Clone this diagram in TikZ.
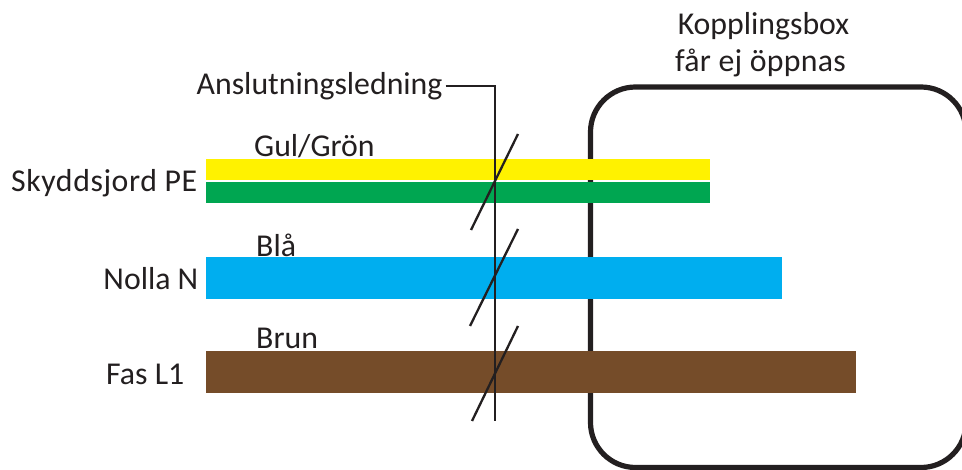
\documentclass[tikz,border=0pt]{standalone}
\usepackage{fontspec}
\setmainfont{Carlito}
\definecolor{cy}{HTML}{FFF200}
\definecolor{cg}{HTML}{00A651}
\definecolor{cb}{HTML}{00AEEF}
\definecolor{cbr}{HTML}{754C29}
\definecolor{ink}{HTML}{231F20}
\tikzset{x=1pt,y=-1pt,
  lbl/.style={font=\fontsize{31.8}{36}\selectfont,inner sep=0pt,text=ink},
  wire/.style={draw=ink,line width=2.3pt}}
\begin{document}
\begin{tikzpicture}
\useasboundingbox (0,0) rectangle (962,470);
\fill[white] (0,0) rectangle (962,470);
\draw[ink,line width=5.2pt,rounded corners=45pt] (590.5,300) -- (590.5,87) -- (966,87) -- (966,467.5) -- (590.5,467.5) -- cycle;
\fill[cy] (206,159) rectangle (710,180);
\fill[cg] (206,182) rectangle (710,203);
\fill[cb] (206,257) rectangle (782,299);
\fill[cbr] (206,351) rectangle (856,393);
\coordinate (a1) at (471,230); \coordinate (a2) at (518,134);
\coordinate (b1) at (470,326); \coordinate (b2) at (518,229);
\coordinate (c1) at (472,421); \coordinate (c2) at (518,326);
\draw[wire] (a1) -- (a2); \draw[wire] (b1) -- (b2); \draw[wire] (c1) -- (c2);
\node[lbl,anchor=west] (an) at (196.5,86) {Anslutningsledning};
\coordinate (k) at (495,86); \coordinate (e) at (495,421);
\draw[wire] ([xshift=3pt]an.east) -- (k) -- (e);
\node[lbl,anchor=center] (kb) at (763.5,26) {Kopplingsbox};
\node[lbl,anchor=center] (fe) at (760.5,63) {\addfontfeature{LetterSpace=1}får ej öppnas};
\node[lbl,anchor=west] (gg) at (254,146) {Gul/Grön};
\node[lbl,anchor=west] (bl) at (256,245) {Blå};
\node[lbl,anchor=west] (br) at (256,338.5) {Brun};
\node[lbl,anchor=east] (pe) at (197.5,183.5) {\addfontfeature{LetterSpace=1.8}Skyddsjord PE};
\node[lbl,anchor=east] (nn) at (198.5,279) {Nolla N};
\node[lbl,anchor=east] (fl) at (184.5,374.5) {Fas L1};
\end{tikzpicture}
\end{document}
